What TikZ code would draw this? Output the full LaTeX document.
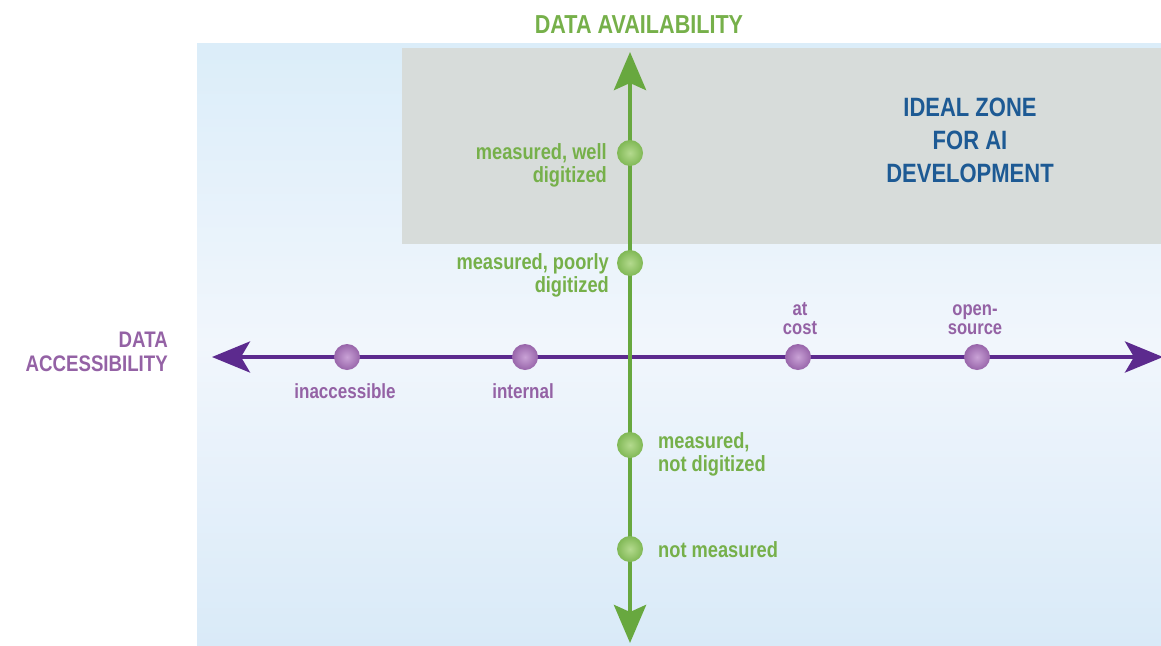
\documentclass[tikz,border=0pt]{standalone}
\usepackage{fontspec}
\setmainfont{Liberation Sans}[FakeStretch=0.83]
\usetikzlibrary{arrows.meta}
\definecolor{axgreen}{HTML}{68A83F}
\definecolor{lblgreen}{HTML}{76B04A}
\definecolor{axpurple}{HTML}{5C2A8E}
\definecolor{lblpurple}{HTML}{9462A5}
\definecolor{zoneblue}{HTML}{1D5A94}
\definecolor{zonegray}{HTML}{D7DCDA}
\definecolor{bgtop}{HTML}{DBEDF9}
\definecolor{bgmid}{HTML}{F1F6FC}
\definecolor{bgbot}{HTML}{D9EAF8}
\definecolor{gdotin}{HTML}{B4DA8E}
\definecolor{gdotout}{HTML}{80B855}
\definecolor{pdotin}{HTML}{C9A2D6}
\definecolor{pdotout}{HTML}{9865AA}
\tikzset{
  x=1pt, y=-1pt,
  gdot/.style={circle, minimum size=26pt, inner sep=0pt, shading=radial, inner color=gdotin, outer color=gdotout},
  pdot/.style={circle, minimum size=26pt, inner sep=0pt, shading=radial, inner color=pdotin, outer color=pdotout},
  gaxis/.style={draw=axgreen, fill=axgreen, line width=4.5pt, {Stealth[length=38pt,width=32pt,inset=7pt]}-{Stealth[length=38pt,width=32pt,inset=7pt]}},
  paxis/.style={draw=axpurple, fill=axpurple, line width=4pt, {Stealth[length=38pt,width=31pt,inset=9pt]}-{Stealth[length=38pt,width=31pt,inset=9pt]}},
  glabel/.style={text=lblgreen, font=\bfseries\fontsize{22}{22.5}\selectfont, inner sep=0pt},
  plabel/.style={text=lblpurple, font=\bfseries\fontsize{20}{18.5}\selectfont, inner sep=0pt, align=center},
  ttl/.style={font=\bfseries\fontsize{26}{24}\selectfont, inner sep=0pt},
  zonetxt/.style={text=zoneblue, font=\bfseries\fontsize{26.5}{33}\selectfont, inner sep=0pt, align=center}
}
\begin{document}
\begin{tikzpicture}
\useasboundingbox (0,0) rectangle (1161,645);
\clip (0,0) rectangle (1161,645);
% background panels
\shade[top color=bgtop, bottom color=bgbot, middle color=bgmid] (197,43) rectangle (1161,645);
\fill[zonegray] (402,48) rectangle (1161,244);
% axis end points
\coordinate (pleft) at (212,357);
\coordinate (pright) at (1163,357);
\coordinate (gtop) at (630,52);
\coordinate (gbot) at (630,643);
\draw[paxis] (pleft) -- (pright);
\draw[gaxis] (gbot) -- (gtop);
% dots
\node[gdot] (well) at (630,153) {};
\node[gdot] (poor) at (630,263) {};
\node[gdot] (notdig) at (630,445) {};
\node[gdot] (notmeas) at (630,549) {};
\node[pdot] (inacc) at (347,357) {};
\node[pdot] (intern) at (525,357) {};
\node[pdot] (atcost) at (798,357) {};
\node[pdot] (open) at (977,357) {};
% titles (multi-line nodes: base = baseline of last line)
\node[ttl, text=lblgreen, anchor=base] (avail) at (639,33) {DATA AVAILABILITY};
\node[ttl, text=lblpurple, anchor=base east, align=right, font=\bfseries\fontsize{22.5}{24}\selectfont] (access) at (168,371) {DATA\\ACCESSIBILITY};
\node[zonetxt, anchor=base] (zone) at (970,182) {IDEAL ZONE\\FOR AI\\DEVELOPMENT};
% green labels
\node[glabel, anchor=base east, align=right] (lwell) at (607,182) {measured, well\\digitized};
\node[glabel, anchor=base east, align=right] (lpoor) at (609,292) {measured, poorly\\digitized};
\node[glabel, anchor=base west, align=left] (lnotdig) at (658,471) {measured,\\not digitized};
\node[glabel, anchor=base west] (lnotmeas) at (658,557) {not measured};
% purple labels
\node[plabel, anchor=base, font=\bfseries\fontsize{20.5}{18}\selectfont] (linacc) at (345,398) {inaccessible};
\node[plabel, anchor=base, font=\bfseries\fontsize{20.5}{18}\selectfont] (lintern) at (523,398) {internal};
\node[plabel, anchor=base] (latcost) at (800,334) {at\\cost};
\node[plabel, anchor=base] (lopen) at (975,334) {open-\\source};
\end{tikzpicture}
\end{document}
